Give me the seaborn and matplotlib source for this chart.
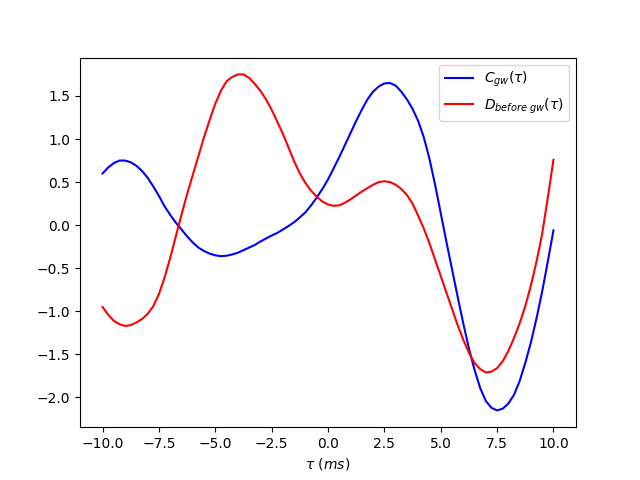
import matplotlib
matplotlib.use("Agg")
import matplotlib.pyplot as plt
import seaborn as sns
import pandas as pd

tau = [-10.0, -9.75, -9.5, -9.25, -9.0, -8.75, -8.5, -8.25, -8.0, -7.75,
       -7.5, -7.25, -7.0, -6.75, -6.5, -6.25, -6.0, -5.75, -5.5, -5.25,
       -5.0, -4.75, -4.5, -4.25, -4.0, -3.75, -3.5, -3.25, -3.0, -2.75,
       -2.5, -2.25, -2.0, -1.75, -1.5, -1.25, -1.0, -0.75, -0.5, -0.25,
       0.0, 0.25, 0.5, 0.75, 1.0, 1.25, 1.5, 1.75, 2.0, 2.25,
       2.5, 2.75, 3.0, 3.25, 3.5, 3.75, 4.0, 4.25, 4.5, 4.75,
       5.0, 5.25, 5.5, 5.75, 6.0, 6.25, 6.5, 6.75, 7.0, 7.25,
       7.5, 7.75, 8.0, 8.25, 8.5, 8.75, 9.0, 9.25, 9.5, 9.75, 10.0]

c_gw = [0.60, 0.67, 0.72, 0.75, 0.75, 0.73, 0.69, 0.63, 0.55, 0.45,
        0.34, 0.22, 0.12, 0.03, -0.05, -0.13, -0.20, -0.26, -0.30, -0.33,
        -0.35, -0.36, -0.355, -0.34, -0.32, -0.29, -0.26, -0.23, -0.19, -0.155,
        -0.12, -0.09, -0.05, -0.01, 0.035, 0.09, 0.15, 0.23, 0.32, 0.42,
        0.53, 0.66, 0.79, 0.93, 1.07, 1.21, 1.34, 1.46, 1.55, 1.61,
        1.645, 1.65, 1.62, 1.55, 1.46, 1.35, 1.21, 1.02, 0.77, 0.47,
        0.14, -0.19, -0.51, -0.83, -1.14, -1.43, -1.68, -1.89, -2.04, -2.12,
        -2.15, -2.13, -2.07, -1.97, -1.81, -1.60, -1.36, -1.08, -0.77, -0.42, -0.06]

d_before = [-0.95, -1.04, -1.11, -1.15, -1.17, -1.16, -1.13, -1.09, -1.03, -0.94,
            -0.80, -0.61, -0.38, -0.13, 0.12, 0.36, 0.58, 0.80, 1.02, 1.22,
            1.41, 1.56, 1.67, 1.72, 1.75, 1.75, 1.71, 1.64, 1.56, 1.46,
            1.34, 1.20, 1.06, 0.90, 0.74, 0.60, 0.49, 0.40, 0.33, 0.275,
            0.24, 0.225, 0.23, 0.26, 0.30, 0.345, 0.39, 0.43, 0.47, 0.50,
            0.51, 0.50, 0.47, 0.42, 0.35, 0.25, 0.11, -0.04, -0.21, -0.40,
            -0.59, -0.78, -0.97, -1.16, -1.33, -1.48, -1.60, -1.67, -1.71, -1.70,
            -1.66, -1.58, -1.46, -1.31, -1.14, -0.94, -0.70, -0.42, -0.10, 0.32, 0.76]

df = pd.DataFrame({"tau": tau, "C": c_gw, "D": d_before})

fig, ax = plt.subplots(figsize=(6.4, 4.8), dpi=100)
sns.lineplot(data=df, x="tau", y="C", color="blue", label=r"$C_{gw}(\tau)$", ax=ax)
sns.lineplot(data=df, x="tau", y="D", color="red", label=r"$D_{before\ gw}(\tau)$", ax=ax)
ax.set_xlabel(r"$\tau\ (ms)$")
ax.set_ylabel("")
ax.legend(loc="upper right")
fig.savefig("out.png", dpi=100)
